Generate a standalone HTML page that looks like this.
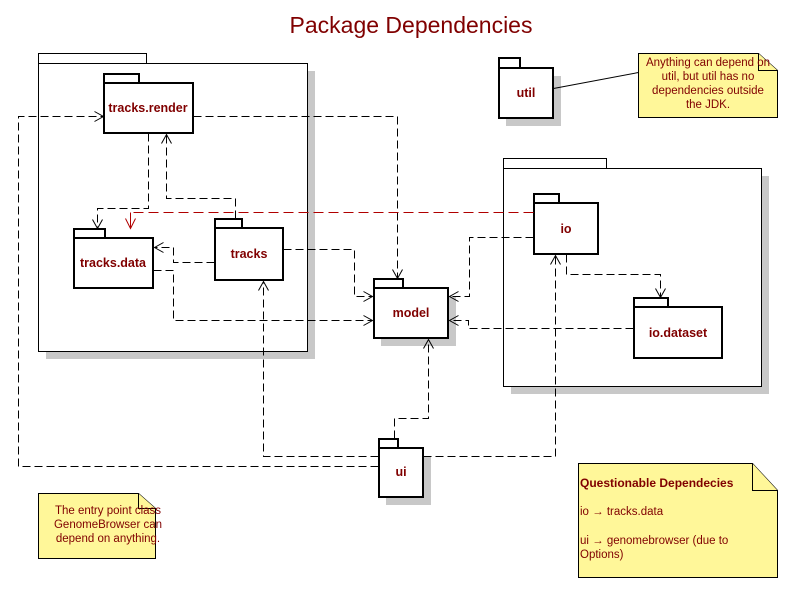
<!DOCTYPE html>
<html><head><meta charset="utf-8"><style>
html,body{margin:0;padding:0;background:#fff}
svg{display:block}
text{font-family:"Liberation Sans",Arial,sans-serif;fill:#800000}
.b{font-weight:bold;font-size:12.5px}
.n{font-size:11.5px}
</style></head><body>
<svg width="812" height="599" viewBox="0 0 812 599" xmlns="http://www.w3.org/2000/svg">
<text x="411" y="33" text-anchor="middle" style="font-size:23px">Package Dependencies</text>

<g fill="#c8c8c8">
<rect x="46" y="71" width="269" height="288"/>
<rect x="511" y="176" width="258" height="218"/>
<rect x="111" y="91" width="90" height="50"/>
<rect x="81" y="246" width="80" height="50"/>
<rect x="222" y="236" width="69" height="52"/>
<rect x="381" y="296" width="75" height="50"/>
<rect x="541" y="211" width="65" height="51"/>
<rect x="641" y="315" width="89" height="51"/>
<rect x="506" y="76" width="55" height="50"/>
<rect x="386" y="456" width="45" height="49"/>
</g>

<g fill="#fff" stroke="#000" stroke-width="1">
<rect x="38.5" y="53.5" width="108" height="10"/>
<rect x="38.5" y="63.5" width="269" height="288"/>
<rect x="503.5" y="158.5" width="103" height="10"/>
<rect x="503.5" y="168.5" width="258" height="218"/>
</g>

<g fill="#fff" stroke="#000" stroke-width="2">
<rect x="104" y="74" width="35" height="9"/><rect x="104" y="83" width="89" height="50"/>
<rect x="74" y="229" width="31" height="9"/><rect x="74" y="238" width="79" height="50"/>
<rect x="215" y="219" width="27" height="9"/><rect x="215" y="228" width="68" height="52"/>
<rect x="374" y="279" width="29" height="9"/><rect x="374" y="288" width="74" height="50"/>
<rect x="534" y="194" width="25" height="9"/><rect x="534" y="203" width="64" height="51"/>
<rect x="634" y="298" width="34" height="9"/><rect x="634" y="307" width="88" height="51"/>
<rect x="499" y="58" width="21" height="10"/><rect x="499" y="68" width="54" height="50"/>
<rect x="379" y="439" width="19" height="9"/><rect x="379" y="448" width="44" height="49"/>
</g>
<text class="b" x="148" y="112" text-anchor="middle">tracks.render</text>
<text class="b" x="113" y="267" text-anchor="middle">tracks.data</text>
<text class="b" x="249" y="258" text-anchor="middle">tracks</text>
<text class="b" x="411" y="317" text-anchor="middle">model</text>
<text class="b" x="566" y="233" text-anchor="middle">io</text>
<text class="b" x="678" y="337" text-anchor="middle">io.dataset</text>
<text class="b" x="526" y="97" text-anchor="middle">util</text>
<text class="b" x="401" y="476" text-anchor="middle">ui</text>

<g transform="translate(0.5,0.5)">
<g fill="none" stroke="#000" stroke-width="1" stroke-dasharray="8,4">
<polyline points="378,466 18,466 18,116 103,116"/>
<polyline points="193,116 397,116 397,278"/>
<polyline points="148,133 148,208 97,208 97,228"/>
<polyline points="235,218 235,198 166,198 166,134"/>
<polyline points="214,262 173,262 173,247 154,247"/>
<polyline points="283,249 354,249 354,296 372,296"/>
<polyline points="153,270 173,270 173,320 372,320"/>
<polyline points="533,237 469,237 469,296 449,296"/>
<polyline points="633,328 468,328 468,320 449,320"/>
<polyline points="566,254 566,274 660,274 660,297"/>
<polyline points="423,456 555,456 555,255"/>
<polyline points="394,438 394,418 428,418 428,339"/>
<polyline points="378,456 263,456 263,281"/>
</g>
<polyline points="533,212 130,212" fill="none" stroke="#b00000" stroke-width="1" stroke-dasharray="10,5"/>
<polyline points="130,212 130,228" fill="none" stroke="#b00000" stroke-width="1"/>

<g fill="none" stroke="#000" stroke-width="1">
<polyline points="94,111 103,116 94,121"/>
<polyline points="392,269 397,278 402,269"/>
<polyline points="92,219 97,228 102,219"/>
<polyline points="161,143 166,134 171,143"/>
<polyline points="163,242 154,247 163,252"/>
<polyline points="363,291 372,296 363,301"/>
<polyline points="363,315 372,320 363,325"/>
<polyline points="458,291 449,296 458,301"/>
<polyline points="458,315 449,320 458,325"/>
<polyline points="655,288 660,297 665,288"/>
<polyline points="550,264 555,255 560,264"/>
<polyline points="423,348 428,339 433,348"/>
<polyline points="258,290 263,281 268,290"/>
</g>
<polyline points="125,218 130,228 135,218" fill="none" stroke="#b00000" stroke-width="1"/>
<line x1="553" y1="88" x2="638" y2="72" stroke="#000"/>
</g>

<g fill="#fff799" stroke="#000" stroke-width="1">
<polygon points="638.5,53.5 758.5,53.5 777.5,70.5 777.5,117.5 638.5,117.5"/>
<polyline points="758.5,53.5 758.5,70.5 777.5,70.5"/>
<polygon points="38.5,493.5 138.5,493.5 155.5,508.5 155.5,558.5 38.5,558.5"/>
<polyline points="138.5,493.5 138.5,508.5 155.5,508.5"/>
<polygon points="578.5,463.5 752.5,463.5 777.5,490.5 777.5,577.5 578.5,577.5"/>
<polyline points="752.5,463.5 752.5,490.5 777.5,490.5"/>
</g>
<text class="n" text-anchor="middle"><tspan x="708" y="66">Anything can depend on</tspan><tspan x="708" y="80">util, but util has no</tspan><tspan x="708" y="94">dependencies outside</tspan><tspan x="708" y="108">the JDK.</tspan></text>
<text class="n" text-anchor="middle"><tspan x="108" y="514">The entry point class</tspan><tspan x="108" y="528">GenomeBrowser can</tspan><tspan x="108" y="542">depend on anything.</tspan></text>
<text class="b" x="580" y="487" style="font-size:12px">Questionable Dependecies</text>
<text class="n" x="580" y="515">io → tracks.data</text>
<text class="n"><tspan x="580" y="544">ui → genomebrowser (due to</tspan><tspan x="580" y="558">Options)</tspan></text>
</svg>
</body></html>
